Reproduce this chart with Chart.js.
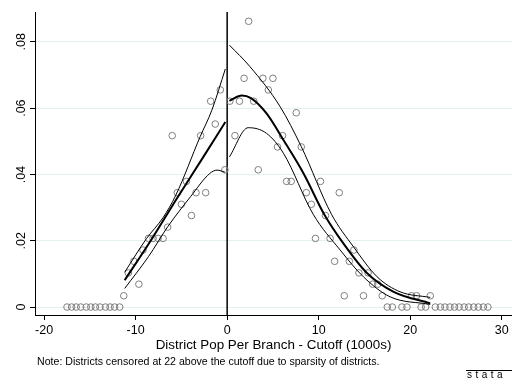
<!DOCTYPE html>
<html>
<head>
<meta charset="utf-8">
<script src="https://cdn.jsdelivr.net/npm/chart.js@4.4.1/dist/chart.umd.min.js"></script>
<style>
  html, body { margin: 0; padding: 0; background: #fff; }
  #wrap { width: 512px; height: 382px; position: relative; }
</style>
</head>
<body>
<div id="wrap"><canvas id="rd"></canvas></div>
<script>
// share of districts per bin, by distance to the cutoff (1000s)
var binX = [-17.5, -17, -16.5, -16, -15.4, -14.9, -14.4, -13.9, -13.3, -12.8, -12.3, -11.75,
  -11.3, -10.8, -10.2, -9.65, -9.2, -8.6, -8.1, -7.55, -7.0, -6.5, -6.0, -5.45, -5.0, -4.45, -3.9, -3.4, -2.9, -2.35, -1.8, -1.3, -0.75, -0.25,
  0.3, 0.85, 1.35, 1.85, 2.35, 2.9, 3.4, 3.9, 4.5, 5.0, 5.5, 6.05, 6.5, 7.0, 7.55, 8.1, 8.65, 9.2, 9.65, 10.2, 10.75, 11.25, 11.75, 12.25, 12.8, 13.35, 13.85, 14.4, 14.9, 15.4, 15.9, 16.45, 16.95,
  17.5, 18.05, 19.1, 19.65, 20.15, 20.7, 21.2, 21.7, 22.2,
  22.75, 23.3, 23.8, 24.35, 24.85, 25.35, 25.9, 26.4, 26.95, 27.45, 28.0, 28.5];
var binShare = [0, 0, 0, 0, 0, 0, 0, 0, 0, 0, 0, 0,
  .0034, .0103, .0138, .0069, .0172, .0207, .0207, .0207, .0207, .0241, .0517, .0345, .031, .0379, .0276, .0345, .0517, .0345, .0621, .0552, .0655, .0414,
  .0621, .0517, .0621, .069, .0862, .0621, .0414, .069, .0655, .069, .0483, .0517, .0379, .0379, .0586, .0483, .0345, .031, .0207, .0379, .0276, .0207, .0138, .0345, .0034, .0138, .0172, .0103, .0034, .0103, .0069, .0069, .0034,
  0, 0, 0, 0, .0034, .0034, 0, 0, .0034,
  0, 0, 0, 0, 0, 0, 0, 0, 0, 0, 0, 0];

// local polynomial fit and 95% band, below the cutoff
var fitLoX = [-11.2, -8.2, -5.6, -2.6, -0.2];
var fitLoY = [.0081, .0207, .0323, .0453, .0558];
var upLoX = [-11.2, -8.8, -7.0, -5.6, -2.95, -1.67, -0.2];
var upLoY = [.0105, .0207, .027, .0338, .0514, .0594, .0718];
var dnLoX = [-11.2, -8.6, -6.5, -4.0, -1.9, -1.1, -0.25];
var dnLoY = [.0056, .0152, .0242, .0333, .0403, .0413, .0407];

// and above the cutoff
var fitHiX = [0.25, 1.6, 2.6, 4.3, 6.15, 8.35, 10.6, 12.7, 15.3, 18.2, 22.2];
var fitHiY = [.0622, .0638, .063, .0584, .0504, .0403, .028, .0192, .0102, .0046, .0011];
var upHiX = [0.25, 2.5, 5.8, 8.1, 11.4, 13.8, 16.4, 18.9, 22.2];
var upHiY = [.079, .0725, .0604, .0484, .028, .0182, .0091, .0046, .0029];
var dnHiX = [0.25, 2.3, 4.3, 6.15, 9.4, 12.35, 14.9, 17.8, 22.2];
var dnHiY = [.0453, .0541, .0524, .0464, .028, .0172, .0091, .0031, .0008];

var xTicks = [-20, -10, 0, 10, 20, 30];
var yTicks = [0, .02, .04, .06, .08];
var yTickText = ['0', '.02', '.04', '.06', '.08'];
var cutoff = 0;

var xTitle = 'District Pop Per Branch - Cutoff (1000s)';
var noteText = 'Note: Districts censored at 22 above the cutoff due to sparsity of districts.';

function pts(xs, ys) {
  return xs.map(function(x, i) { return {x: x, y: ys[i]}; });
}

function curve(xs, ys, w) {
  return {
    type: 'line',
    data: pts(xs, ys),
    borderColor: '#000',
    borderWidth: w,
    pointRadius: 0,
    fill: false,
    tension: 0.4,
    cubicInterpolationMode: 'monotone',
    order: 0
  };
}

var FONT = '"Liberation Sans", Arial, sans-serif';

// extra text: rotated y labels, cutoff line, titles, logo
var decor = {
  id: 'decor',
  beforeDatasetsDraw: function(chart) {
    var c = chart.ctx, a = chart.chartArea;
    var px = chart.scales.x.getPixelForValue(cutoff);
    c.save();
    c.strokeStyle = '#000';
    c.lineWidth = 1.5;
    c.beginPath();
    c.moveTo(px, a.top);
    c.lineTo(px, a.bottom);
    c.stroke();
    c.restore();
  },
  afterDraw: function(chart) {
    var c = chart.ctx, a = chart.chartArea, ys = chart.scales.y;
    c.save();
    c.fillStyle = '#000';
    c.font = '12.5px ' + FONT;
    c.textAlign = 'center';
    c.textBaseline = 'middle';
    yTicks.forEach(function(v, i) {
      c.save();
      c.translate(21.5, ys.getPixelForValue(v));
      c.rotate(-Math.PI / 2);
      c.fillText(yTickText[i], 0, 0);
      c.restore();
    });
    c.font = '13.4px ' + FONT;
    c.fillText(xTitle, (a.left + a.right) / 2, 345);
    c.font = '10.6px ' + FONT;
    c.textAlign = 'left';
    c.fillText(noteText, 37, 362.5);
    // logo
    c.font = '10px ' + FONT;
    c.letterSpacing = '3.5px';
    c.textBaseline = 'alphabetic';
    c.fillText('stata', 467, 377.5);
    c.letterSpacing = '0px';
    c.lineWidth = 1;
    c.beginPath();
    c.moveTo(466, 370.5); c.lineTo(512, 370.5);
    c.stroke();
    c.restore();
  }
};

new Chart(document.getElementById('rd'), {
  type: 'scatter',
  data: {
    datasets: [
      {
        data: pts(binX, binShare),
        pointStyle: 'circle',
        pointRadius: 3.3,
        pointBorderWidth: 1,
        pointBorderColor: '#7f7f7f',
        pointBackgroundColor: 'rgba(0,0,0,0)',
        order: 5
      },
      curve(fitLoX, fitLoY, 2),
      curve(upLoX, upLoY, 1),
      curve(dnLoX, dnLoY, 1),
      curve(fitHiX, fitHiY, 2),
      curve(upHiX, upHiY, 1),
      curve(dnHiX, dnHiY, 1)
    ]
  },
  options: {
    responsive: true,
    maintainAspectRatio: false,
    animation: false,
    layout: { autoPadding: false, padding: { top: 12, right: 0, left: 0, bottom: 0 } },
    plugins: { legend: { display: false }, tooltip: { enabled: false } },
    scales: {
      x: {
        type: 'linear',
        min: -21,
        max: 31.13,
        afterBuildTicks: function(s) { s.ticks = xTicks.map(function(v) { return {value: v}; }); },
        afterFit: function(s) { s.height = 67; s.paddingLeft = 0; s.paddingRight = 0; },
        border: { color: '#000', width: 1 },
        grid: { drawOnChartArea: false, drawTicks: true, tickLength: 5, tickColor: '#000' },
        ticks: { color: '#000', font: { family: FONT, size: 12.5 }, padding: 3, maxRotation: 0 }
      },
      y: {
        type: 'linear',
        min: -0.0024,
        max: 0.089,
        afterBuildTicks: function(s) { s.ticks = yTicks.map(function(v) { return {value: v}; }); },
        afterFit: function(s) { s.width = 35; s.paddingTop = 0; s.paddingBottom = 0; },
        border: { color: '#000', width: 1 },
        grid: { color: '#e6eff0', lineWidth: 1, drawTicks: true, tickLength: 5, tickColor: '#000' },
        ticks: { display: false }
      }
    }
  },
  plugins: [decor]
});
</script>
</body>
</html>
